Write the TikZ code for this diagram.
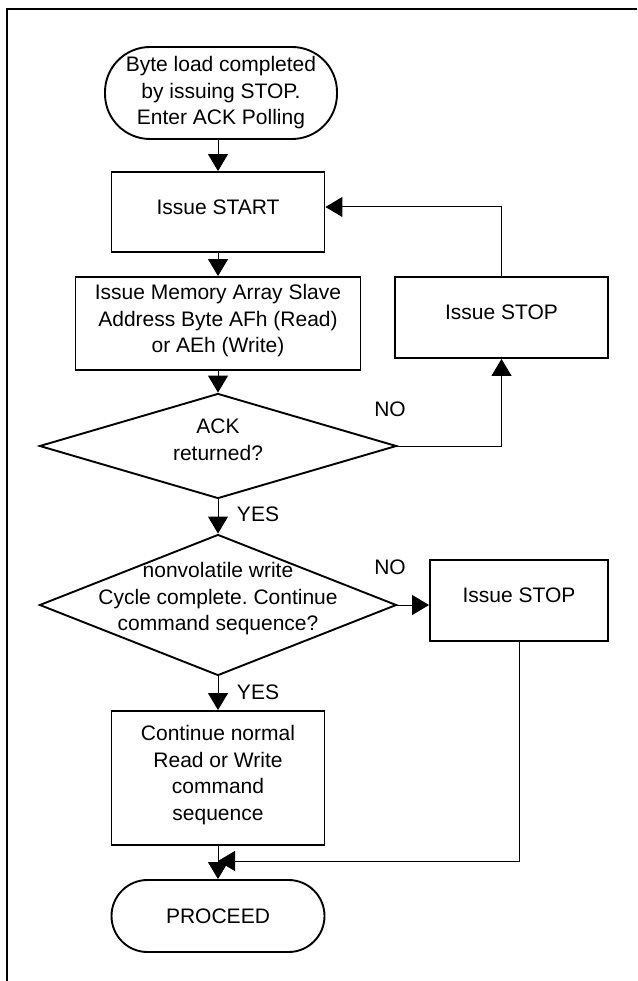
\documentclass[tikz,border=0pt]{standalone}
\usepackage{fontspec}
\setmainfont{Liberation Sans}
\usetikzlibrary{arrows.meta,shapes.geometric}
\frenchspacing

\begin{document}
\begin{tikzpicture}[x=1pt,y=-1pt,->,>={Triangle[length=17pt,width=20pt]},line width=1pt,
  box/.style={rectangle,draw,line width=1.9pt,inner sep=0pt,align=center,text depth=10pt,font=\fontsize{21}{26.5}\selectfont},
  term/.style={rectangle,draw,line width=1.9pt,inner sep=0pt,align=center,font=\fontsize{21}{26.5}\selectfont},
  decision/.style={diamond,draw,line width=1.9pt,inner sep=0pt,minimum width=357pt},
  lbl/.style={inner sep=0pt,align=center,font=\fontsize{21}{26.5}\selectfont}]

  \useasboundingbox (0,0) rectangle (637,981);
  \draw[-,line width=1.2pt] (637,9) -- (7,9) -- (7,981);

  \node[term,rounded corners=45pt,minimum width=232pt,minimum height=92pt] (enter) at (221,93) {Byte load completed\\by issuing STOP.\\Enter ACK Polling};
  \node[box,minimum width=213pt,minimum height=80pt] (start) at (218,212) {Issue START};
  \node[box,minimum width=285pt,minimum height=93pt] (addr) at (218,323.5) {Issue Memory Array Slave\\Address Byte AFh (Read)\\or AEh (Write)};
  \node[box,minimum width=213pt,minimum height=81pt] (stopa) at (501.5,317.5) {Issue STOP};
  \node[decision,minimum height=105pt] (ack) at (218,446) {};
  \node[lbl] (acktext) at (218,440) {ACK\\returned?};
  \node[decision,minimum height=141pt] (cycle) at (218,605) {};
  \node[lbl] (cycletext) at (218,599) {nonvolatile write\\Cycle complete. Continue\\command sequence?};
  \node[box,minimum width=178pt,minimum height=81pt] (stopb) at (519,600.5) {Issue STOP};
  \node[box,minimum width=213pt,minimum height=134pt] (cont) at (218,778) {Continue normal\\Read or Write\\command\\sequence};
  \node[term,rounded corners=36pt,minimum width=213pt,minimum height=72pt] (proceed) at (218,916) {PROCEED};
  \node[lbl] (no1) at (390,409) {NO};
  \node[lbl] (no2) at (390,567) {NO};
  \node[lbl] (yes1) at (258,514) {YES};
  \node[lbl] (yes2) at (258,692) {YES};
  \coordinate (join) at (218,861);

  \path
    (enter.south -| start.north) edge (start)
    (start) edge (addr)
    (addr) edge (ack)
    (ack) edge (cycle)
    (cycle.east) edge (cycle.east -| stopb.west)
    (cycle) edge (cont)
    (cont) edge (proceed)
    ;
  \draw (ack.east) -| (stopa.south);
  \draw (stopa.north) |- ([yshift=5pt]start.east);
  \draw (stopb.south) |- (join);

\end{tikzpicture}
\end{document}
